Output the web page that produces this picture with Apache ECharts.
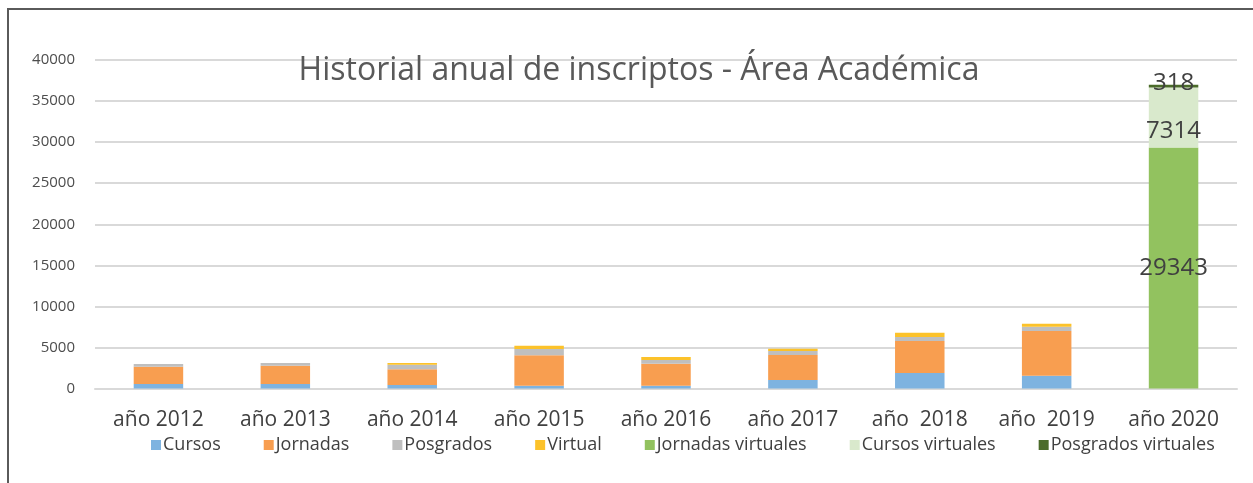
<!DOCTYPE html>
<html>
<head>
<meta charset="utf-8">
<script src="https://cdn.jsdelivr.net/npm/echarts@6/dist/echarts.min.js"></script>
<style>
  html, body { margin: 0; padding: 0; background: #fff; }
  #chart { width: 1253px; height: 483px; }
</style>
</head>
<body>
<div id="chart"></div>
<script>
// años (categorías del eje x)
var years = ['año 2012', 'año 2013', 'año 2014', 'año 2015', 'año 2016', 'año 2017', 'año  2018', 'año  2019', 'año 2020'];

// inscriptos por serie
var cursos = [550, 550, 430, 350, 350, 1030, 1880, 1560, 0];
var jornadas = [2100, 2220, 1900, 3700, 2650, 3040, 3900, 5430, 0];
var posgrados = [330, 330, 560, 750, 460, 490, 480, 530, 0];
var virtual = [0, 0, 200, 400, 370, 280, 520, 360, 0];
var jornadasVirtuales = [0, 0, 0, 0, 0, 0, 0, 0, 29343];
var cursosVirtuales = [0, 0, 0, 0, 0, 0, 0, 0, 7314];
var posgradosVirtuales = [0, 0, 0, 0, 0, 0, 0, 0, 318];

var yTicks = { min: 0, max: 40000, interval: 5000 };

var font = '"Open Sans", "Noto Sans", sans-serif';

var chart = echarts.init(document.getElementById('chart'));

// solo se muestran etiquetas con valor (año 2020)
function lbl(offsetY) {
  return {
    show: true,
    position: 'inside',
    offset: [0, offsetY || 0],
    color: '#404040',
    fontFamily: font,
    fontSize: 24,
    formatter: function (p) { return p.value ? p.value : ''; }
  };
}

function serie(name, data, color, label) {
  return {
    name: name,
    type: 'bar',
    stack: 'total',
    barWidth: '39%',
    data: data,
    itemStyle: { color: color },
    label: label || { show: false },
    emphasis: { disabled: true }
  };
}

var option = {
  backgroundColor: '#ffffff',
  animation: false,
  title: {
    text: 'Historial anual de inscriptos - Área Académica',
    left: 634,
    textAlign: 'center',
    top: 50,
    textStyle: { color: '#595959', fontFamily: font, fontSize: 32, fontWeight: 'normal' }
  },
  graphic: [{
    type: 'rect',
    shape: { x: 8, y: 9, width: 1400, height: 600 },
    style: { fill: null, stroke: '#5a5a5a', lineWidth: 2 },
    silent: true
  }],
  grid: { left: 95, right: 16, top: 60, bottom: 94.5 },
  legend: {
    bottom: 24,
    left: 146,
    itemWidth: 10,
    itemHeight: 10,
    itemGap: 43,
    icon: 'rect',
    textStyle: { color: '#404040', fontFamily: font, fontSize: 18, padding: [0, 0, 0, -3] },
    data: ['Cursos', 'Jornadas', 'Posgrados', 'Virtual', 'Jornadas virtuales', 'Cursos virtuales', 'Posgrados virtuales']
  },
  xAxis: {
    type: 'category',
    data: years,
    axisLine: { lineStyle: { color: '#d9d9d9', width: 2 } },
    axisTick: { show: false },
    axisLabel: { color: '#404040', fontFamily: font, fontSize: 21, margin: 21 }
  },
  yAxis: {
    type: 'value',
    min: yTicks.min,
    max: yTicks.max,
    interval: yTicks.interval,
    axisLine: { show: false },
    axisTick: { show: false },
    splitLine: { lineStyle: { color: '#d9d9d9', width: 2 } },
    axisLabel: {
      color: '#4d4d4d', fontFamily: font, fontSize: 15, margin: 20,
      formatter: function (v) { return String(v); }
    }
  },
  series: [
    serie('Cursos', cursos, '#7eb3e0'),
    serie('Jornadas', jornadas, '#f89e50'),
    serie('Posgrados', posgrados, '#bfbfbf'),
    serie('Virtual', virtual, '#fcc22a'),
    serie('Jornadas virtuales', jornadasVirtuales, '#92c25f', lbl(0)),
    serie('Cursos virtuales', cursosVirtuales, '#d9e9cc', lbl(14)),
    serie('Posgrados virtuales', posgradosVirtuales, '#4b6b2a', lbl(-3))
  ]
};

chart.setOption(option);
</script>
</body>
</html>
